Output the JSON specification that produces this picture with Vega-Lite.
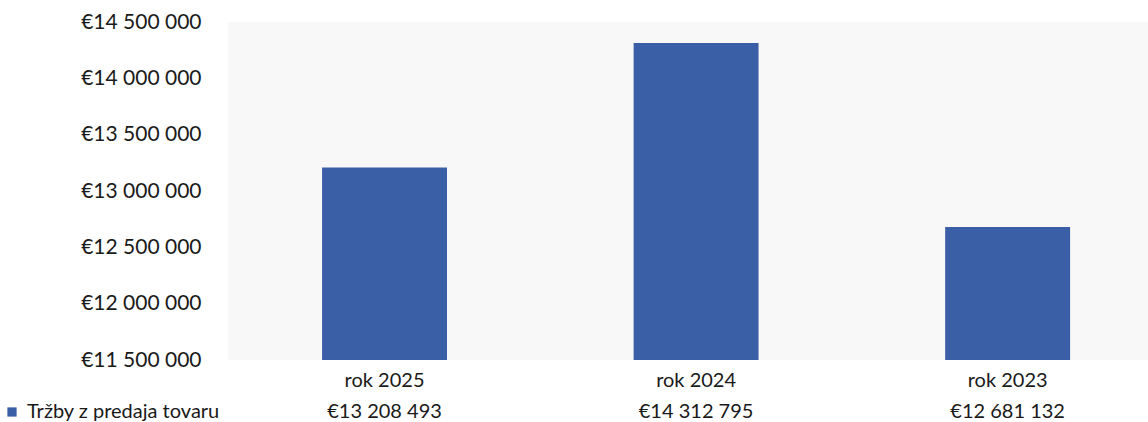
{
  "$schema": "https://vega.github.io/schema/vega-lite/v6.json",
  "autosize": {"type": "none"},
  "width": 920,
  "height": 338,
  "padding": {"left": 228, "top": 22, "right": 0, "bottom": 62},
  "background": "#ffffff",
  "config": {
    "font": "Lato",
    "view": {"stroke": null, "fill": "#f8f8f8"},
    "locale": {
      "number": {
        "decimal": ",",
        "thousands": " ",
        "grouping": [3],
        "currency": ["€", ""]
      }
    }
  },
  "data": {
    "values": [
      {"rok": "rok 2025", "seria": "Tržby z predaja tovaru", "trzby": 13208493},
      {"rok": "rok 2024", "seria": "Tržby z predaja tovaru", "trzby": 14312795},
      {"rok": "rok 2023", "seria": "Tržby z predaja tovaru", "trzby": 12681132}
    ]
  },
  "encoding": {
    "x": {
      "field": "rok",
      "type": "nominal",
      "sort": null,
      "scale": {"paddingInner": 0.599, "paddingOuter": 0.276, "align": 0.547},
      "axis": {
        "title": null,
        "domain": false,
        "ticks": false,
        "labelAngle": 0,
        "labelFontSize": 20,
        "labelColor": "#1a1a1a",
        "labelPadding": 10
      }
    }
  },
  "layer": [
    {
      "mark": {"type": "bar", "color": "#3a5fa6"},
      "encoding": {
        "y": {
          "field": "trzby",
          "type": "quantitative",
          "scale": {"domain": [11500000, 14500000], "zero": false, "nice": false},
          "axis": {
            "title": null,
            "domain": false,
            "ticks": false,
            "grid": false,
            "values": [11500000, 12000000, 12500000, 13000000, 13500000, 14000000, 14500000],
            "format": "$,.0f",
            "labelFontSize": 21,
            "labelColor": "#1a1a1a",
            "labelPadding": 27
          }
        },
        "y2": {"datum": 11500000},
        "color": {
          "field": "seria",
          "type": "nominal",
          "scale": {"range": ["#3a5fa6"]},
          "legend": {
            "title": null,
            "orient": "none",
            "legendX": -226,
            "legendY": 380,
            "symbolType": "square",
            "symbolSize": 85,
            "labelFontSize": 20,
            "labelLimit": 0,
            "labelColor": "#1a1a1a",
            "labelOffset": 5
          }
        }
      }
    },
    {
      "mark": {"type": "text", "fontSize": 20, "color": "#1a1a1a", "dy": 52, "baseline": "middle"},
      "encoding": {
        "y": {"datum": 11500000, "type": "quantitative"},
        "text": {"field": "trzby", "type": "quantitative", "format": "$,.0f"}
      }
    }
  ]
}
